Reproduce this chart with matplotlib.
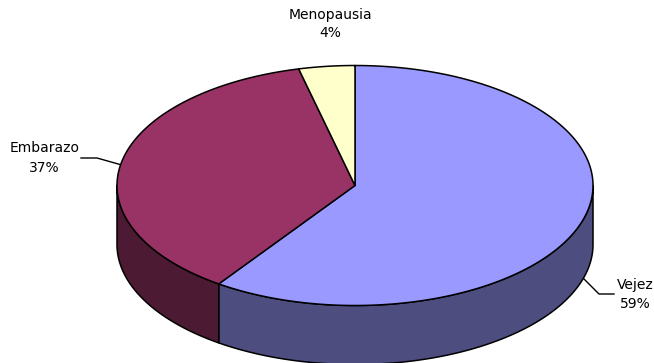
import numpy as np
import matplotlib
matplotlib.use("Agg")
import matplotlib.pyplot as plt
from matplotlib.patches import Polygon

categories = ["Vejez", "Embarazo", "Menopausia"]
values = [59.7, 36.5, 3.8]
labels = ["59%", "37%", "4%"]
top_colors = ["#9999FF", "#993366", "#FFFFCC"]
side_colors = ["#4D4D80", "#4D1A33", "#808066"]

W, H = 654, 363
cx, cy, rx, ry, depth = 355, 185.5, 238, 120, 59

fig = plt.figure(figsize=(W / 100, H / 100), dpi=100)
ax = fig.add_axes([0, 0, 1, 1])
ax.set_xlim(0, W)
ax.set_ylim(H, 0)
ax.axis("off")


def pt(theta, dy=0):
    return cx + rx * np.sin(theta), cy - ry * np.cos(theta) + dy


edges = np.radians(np.cumsum([0] + values) * 3.6)
lw = 1.1

# side walls: only the front part of the ellipse (90deg..270deg clockwise from top)
for i in range(len(values)):
    a, b = max(edges[i], np.pi / 2), min(edges[i + 1], 1.5 * np.pi)
    if a >= b:
        continue
    t = np.linspace(a, b, 200)
    x, y = pt(t)
    xb, yb = pt(t[::-1], depth)
    ax.add_patch(Polygon(np.r_[np.c_[x, y], np.c_[xb, yb]], closed=True,
                         facecolor=side_colors[i], edgecolor="black", lw=lw, joinstyle="round"))

# top wedges
for i in range(len(values)):
    t = np.linspace(edges[i], edges[i + 1], 300)
    x, y = pt(t)
    pts = np.r_[[[cx, cy]], np.c_[x, y]]
    ax.add_patch(Polygon(pts, closed=True, facecolor=top_colors[i], edgecolor="black",
                         lw=lw, joinstyle="round"))

# leader lines and labels
font = dict(family="DejaVu Sans", fontsize=10, color="black", ha="center", va="center")
ax.plot([584, 599, 614], [279, 294, 294], color="black", lw=1)
ax.plot([81, 97, 120], [158, 158, 164.5], color="black", lw=1)
positions = [(635, 285, 304), (44.5, 148.5, 168), (330, 15, 33)]
for name, lab, (x, y1, y2) in zip(categories, labels, positions):
    ax.text(x, y1, name, **font)
    ax.text(x, y2, lab, **font)

fig.savefig("out.png", dpi=100, facecolor="white")
